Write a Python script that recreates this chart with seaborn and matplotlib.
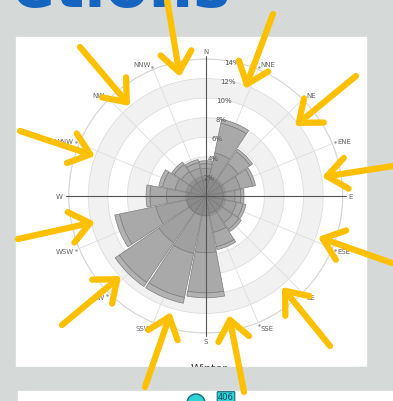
import matplotlib
matplotlib.use("Agg")
import matplotlib.pyplot as plt
from matplotlib.patches import Rectangle, Circle
import seaborn as sns
import numpy as np

# wind rose data (percent of time per direction, stacked by speed class)
directions = ["N", "NNE", "NE", "ENE", "E", "ESE", "SE", "SSE",
              "S", "SSW", "SW", "WSW", "W", "WNW", "NW", "NNW"]
speed_low = [1.6, 1.8, 1.8, 1.8, 1.8, 1.8, 1.8, 1.8, 2.0, 2.0, 2.0, 2.0, 1.8, 1.6, 1.6, 1.6]
speed_mid = [1.2, 2.7, 2.2, 1.8, 1.2, 1.4, 1.5, 2.0, 3.8, 4.0, 3.8, 3.2, 2.2, 1.6, 1.4, 1.3]
speed_high = [0.5, 3.1, 1.5, 1.3, 0.6, 0.7, 0.8, 1.5, 4.1, 4.6, 4.9, 3.8, 1.7, 1.3, 0.9, 0.6]
speed_top = [0.3, 0.4, 0.3, 0.3, 0.3, 0.3, 0.3, 0.3, 0.5, 0.6, 0.5, 0.5, 0.4, 0.4, 0.3, 0.3]
calm = 2.1
ring_values = [2, 4, 6, 8, 10, 12, 14]

# yellow arrows on the slide (tail -> head, pixel positions)
arrow_tails = [(167, 0), (273, 15), (80, 48), (356, 77), (393, 167), (392, 264),
               (330, 347), (244, 393), (145, 388), (62, 326), (18, 240), (20, 132)]
arrow_heads = [(180, 78), (245, 90), (130, 107), (295, 127), (322, 178), (318, 238),
               (282, 288), (229, 316), (171, 313), (121, 277), (95, 223), (95, 157)]

sns.set_style("white")

W, H = 393, 402
fig = plt.figure(figsize=(W / 100, H / 100), dpi=100)

# slide background
bg = fig.add_axes([0, 0, 1, 1], zorder=0)
bg.set_xlim(0, W)
bg.set_ylim(H, 0)
bg.axis("off")
bg.add_patch(Rectangle((0, 0), W, H, color="#d5d9d8", zorder=0))
bg.add_patch(Rectangle((16, 38), 350, 329, color="white", zorder=1))
bg.text(209, 364, "Winter", ha="center", va="top", fontsize=8,
        color="#333333", zorder=2)
bg.add_patch(Rectangle((0, 367.5), W, 24.5, color="#d5d9d8", zorder=3))
bg.add_patch(Rectangle((18, 392), W - 18, 12, color="white", zorder=3))
bg.text(12, 7, "etions", ha="left", va="baseline", fontsize=45,
        fontweight="bold", color="#1565c0", zorder=2)
bg.add_patch(Circle((196, 404), 9, facecolor="#2ed3d6", edgecolor="#1a6b7a",
                    lw=1, zorder=4))
bg.text(226, 398, "406", ha="center", va="center", fontsize=6, color="#1a4a60",
        bbox=dict(boxstyle="round,pad=0.1", fc="#2ed3d6", ec="#1a6b7a", lw=0.8),
        zorder=5)

# polar wind rose
cx, cy, rad = 205.7, 197, 137
ax = fig.add_axes([(cx - rad) / W, (H - cy - rad) / H, 2 * rad / W, 2 * rad / H],
                  projection="polar", zorder=1)
ax.patch.set_alpha(0)
ax.set_theta_zero_location("N")
ax.set_theta_direction(-1)
ax.set_ylim(0, 14)
ax.grid(False)
ax.set_xticks([])
ax.set_yticks([])
ax.spines["polar"].set_color("#d6d6d6")
ax.spines["polar"].set_linewidth(0.8)

full = np.linspace(0, 2 * np.pi, 361)
for lo in [2, 6, 10]:
    ax.bar(0, 2, width=2 * np.pi, bottom=lo, color="#f1f1f1", lw=0, zorder=0)
for v in ring_values:
    ax.plot(full, np.full_like(full, v), color="#dedede", lw=0.6, zorder=1)

angles = np.deg2rad(np.arange(16) * 22.5)
for a in angles:
    ax.plot([a, a], [0, 14], color="#dedede", lw=0.6, zorder=1)
for a in np.deg2rad([0, 90, 180, 270]):
    ax.plot([a, a], [0, 14.3], color="#555555", lw=0.8, zorder=6, clip_on=False)

seg_colors = sns.blend_palette(["#979797", "#b2b2b2"], 4)
width = 2 * np.pi / 16 * 0.95
bottom = np.zeros(16)
for vals, col in zip([speed_low, speed_mid, speed_high, speed_top], seg_colors):
    ax.bar(angles, vals, width=width, bottom=bottom, color=col,
           edgecolor="#7e7e7e", lw=0.5, zorder=3)
    bottom = bottom + np.array(vals)
ax.bar(0, calm, width=2 * np.pi, color="#707070", alpha=0.3, lw=0, zorder=4)

for a, name in zip(angles, directions):
    deg = np.rad2deg(a)
    if name in ("N", "S"):
        ax.text(a, 14.55, name, ha="center", va="bottom" if name == "N" else "top",
                fontsize=5, color="#666666", clip_on=False)
        continue
    if name not in ("E", "W"):
        ax.plot(a, 14.3, ".", ms=1.5, color="#999999", clip_on=False)
    ha = "left" if deg < 180 else "right"
    ax.text(a, 14.6, name, ha=ha, va="center", fontsize=5, color="#666666",
            clip_on=False)

for v in ring_values:
    ax.text(np.deg2rad(11), v, f"{v}%", ha="center", va="center", fontsize=5,
            color="#555555", zorder=7)

# yellow arrows overlay
ov = fig.add_axes([0, 0, 1, 1], zorder=2)
ov.set_xlim(0, W)
ov.set_ylim(H, 0)
ov.axis("off")
ov.patch.set_alpha(0)
for tail, head in zip(arrow_tails, arrow_heads):
    ov.annotate("", xy=head, xytext=tail, annotation_clip=False,
                arrowprops=dict(arrowstyle="->,head_length=1.0,head_width=0.8",
                                color="#ffc000", lw=4.5, mutation_scale=14,
                                shrinkA=0, shrinkB=0))

fig.savefig("out.png", dpi=100)
